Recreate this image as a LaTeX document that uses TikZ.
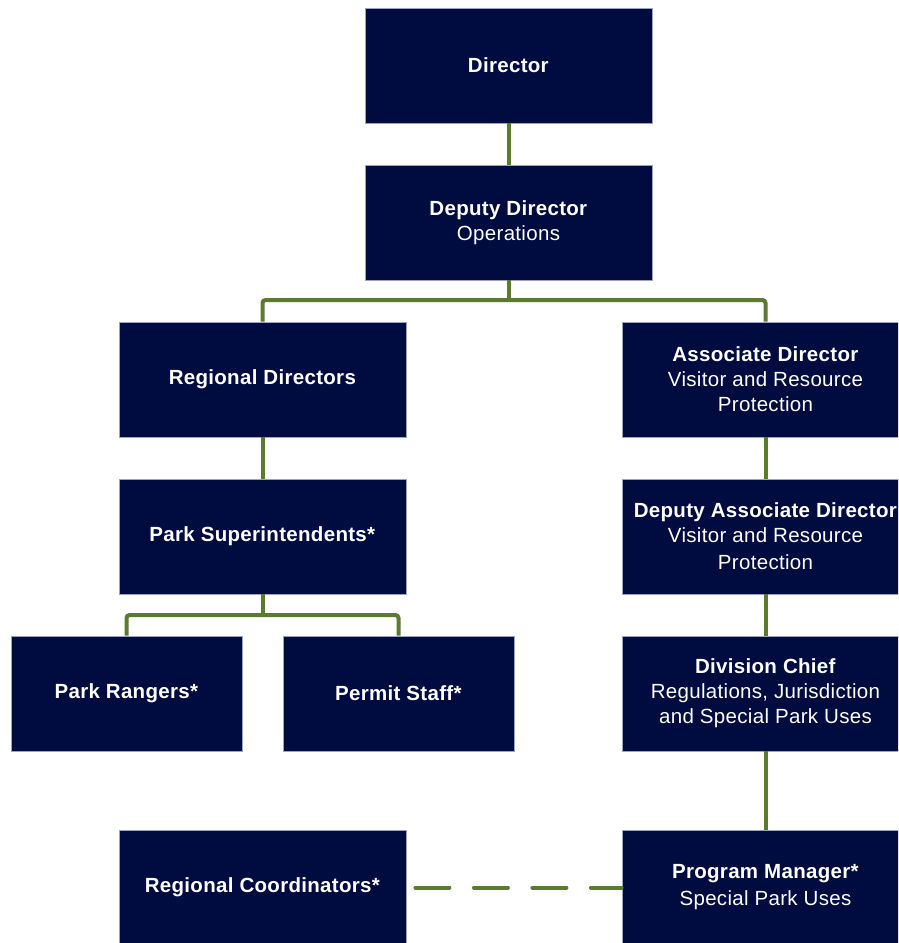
\documentclass[tikz,border=0pt]{standalone}
\usepackage{fontspec}
\setmainfont[LetterSpace=1.5]{Liberation Sans}
\definecolor{navy}{HTML}{000B40}
\definecolor{olive}{HTML}{5B7B31}
\definecolor{boxedge}{HTML}{9AA3BF}
\begin{document}
\begin{tikzpicture}[x=1pt,y=-1pt,
  box/.style={draw=boxedge, line width=0.8pt, fill=navy, text=white,
    minimum width=287pt, minimum height=115pt, inner sep=0pt, align=center,
    font=\fontsize{20.5}{25}\selectfont},
  narrow/.style={minimum width=231pt},
  link/.style={draw=olive, line width=4pt},
  dashlink/.style={link, dash pattern=on 34pt off 24.5pt, line cap=round}]
\useasboundingbox (0,0) rectangle (898,943);
\clip (0,0) rectangle (898,943);
\node[box] (dir) at (508.5,65.5) {\textbf{Director}};
\node[box] (dep) at (508.5,222.5) {\textbf{Deputy Director}\\Operations};
\node[box] (rd) at (262.5,379.5) {\textbf{Regional Directors}};
\node[box] (ad) at (765.5,379.5) {\textbf{Associate Director}\\Visitor and Resource\\Protection};
\node[box] (ps) at (262.5,536.5) {\textbf{Park Superintendents*}};
\node[box] (dad) at (765.5,536.5) {\textbf{Deputy Associate Director}\\Visitor and Resource\\[2pt]Protection};
\node[box,narrow] (pr) at (126.5,693.5) {\textbf{Park Rangers*}};
\node[box,narrow] (pst) at (398.5,693.5) {\textbf{Permit Staff*}};
\node[box] (dc) at (765.5,693.5) {\textbf{Division Chief}\\Regulations, Jurisdiction\\and Special Park Uses};
\node[box] (rc) at (262.5,887.5) {\textbf{Regional Coordinators*}};
\node[box] (pm) at (765.5,887.5) {\textbf{Program Manager*}\\[2pt]Special Park Uses};
\coordinate (b1) at (508.5,300);
\coordinate (b2) at (262.5,615);
\draw[link] (dir.south) -- (dep.north);
\draw[link] (dep.south) -- (b1);
\draw[link, rounded corners=3pt] (rd.north) |- (b1) -| (ad.north);
\draw[link] (rd.south) -- (ps.north);
\draw[link] (ps.south) -- (b2);
\draw[link, rounded corners=3pt] (pr.north) |- (b2) -| (pst.north);
\draw[link] (ad.south) -- (dad.north);
\draw[link] (dad.south) -- (dc.north);
\draw[link] (dc.south) -- (pm.north);
\draw[dashlink, shorten <=9pt] (rc.east) -- (pm.west);
\end{tikzpicture}
\end{document}
